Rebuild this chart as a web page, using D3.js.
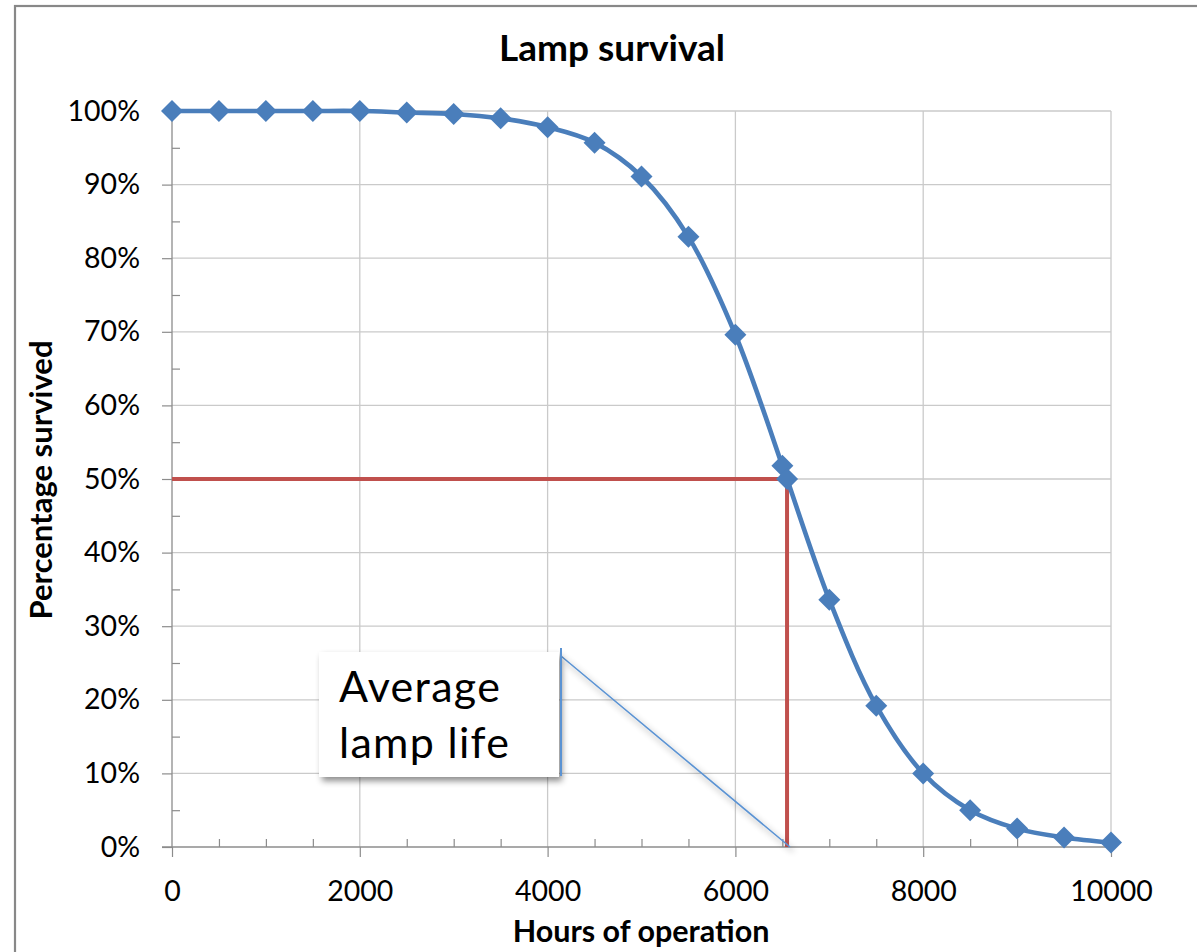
<!DOCTYPE html>
<html>
<head>
<meta charset="utf-8">
<script src="https://cdn.jsdelivr.net/npm/d3@7"></script>
<style>
  html, body { margin: 0; padding: 0; background: #fff; }
  svg { display: block; }
  text { font-family: Lato, "Open Sans", sans-serif; fill: #000; }
</style>
</head>
<body>
<svg id="chart" width="1197" height="952"></svg>
<script>
// Lamp survival data: hours of operation vs. fraction of lamps still working
const hours    = [0, 500, 1000, 1500, 2000, 2500, 3000, 3500, 4000, 4500, 5000, 5500, 6000, 6500, 6550, 7000, 7500, 8000, 8500, 9000, 9500, 10000];
const survival = [1.000, 1.000, 1.000, 1.000, 1.000, 0.998, 0.996, 0.990, 0.978, 0.957, 0.911, 0.829, 0.696, 0.518, 0.500, 0.336, 0.192, 0.100, 0.050, 0.025, 0.013, 0.006];

// Average lamp life: the hour at which 50% have survived
const lifeHours = 6550;
const lifeLevel = 0.5;

const xTicks = [0, 2000, 4000, 6000, 8000, 10000];
const xMinorTicks = d3.range(0, 10001, 500);
const yTicks = d3.range(0, 11).map(i => i / 10);
const yMinorTicks = d3.range(0, 21).map(i => i / 20);

const titleText = "Lamp survival";
const xTitle = "Hours of operation";
const yTitle = "Percentage survived";
const calloutLines = ["Average", "lamp life"];

const svg = d3.select("#chart");
const blue = "#4A7EBB";
const red = "#C0504D";
const axisGrey = "#8C8C8C";
const gridGrey = "#CACACA";

const x = d3.scaleLinear().domain([0, 10000]).range([172, 1111]);
const y = d3.scaleLinear().domain([0, 1]).range([847, 111]);

// outer frame of the chart area
svg.append("rect")
  .attr("x", 15).attr("y", 6)
  .attr("width", 1200).attr("height", 960)
  .attr("fill", "#fff")
  .attr("stroke", "#888").attr("stroke-width", 2.2);

const defs = svg.append("defs");
const shadow = defs.append("filter").attr("id", "shadow")
  .attr("x", "-20%").attr("y", "-20%").attr("width", "140%").attr("height", "140%");
shadow.append("feDropShadow")
  .attr("dx", 3).attr("dy", 4).attr("stdDeviation", 3)
  .attr("flood-color", "#000").attr("flood-opacity", 0.45);

// gridlines
svg.append("g").selectAll("line.h").data(yTicks.filter(d => d > 0)).join("line")
  .attr("x1", x(0)).attr("x2", x(10000))
  .attr("y1", d => y(d)).attr("y2", d => y(d))
  .attr("stroke", gridGrey).attr("stroke-width", 1.3);
svg.append("g").selectAll("line.v").data(xTicks.filter(d => d > 0)).join("line")
  .attr("x1", d => x(d)).attr("x2", d => x(d))
  .attr("y1", y(1)).attr("y2", y(0))
  .attr("stroke", gridGrey).attr("stroke-width", 1.3);

// y axis: major ticks outside, minor ticks inside
const yAxisMajor = d3.axisLeft(y).tickValues(yTicks).tickSize(10).tickPadding(22)
  .tickFormat(d3.format(".0%"));
const gy = svg.append("g").attr("transform", `translate(${x(0)},0)`).call(yAxisMajor);
gy.select(".domain").remove();
gy.selectAll(".tick line").attr("stroke", axisGrey).attr("stroke-width", 1.2);
gy.selectAll(".tick text").attr("font-size", 28.5).attr("font-family", "Lato").attr("fill", "#000");
const gyMinor = svg.append("g").attr("transform", `translate(${x(0)},0)`)
  .call(d3.axisRight(y).tickValues(yMinorTicks.filter((d, i) => i % 2 === 1)).tickSize(8).tickFormat(""));
gyMinor.select(".domain").remove();
gyMinor.selectAll(".tick line").attr("stroke", axisGrey).attr("stroke-width", 1.2);
svg.append("line")
  .attr("x1", x(0)).attr("x2", x(0)).attr("y1", y(1)).attr("y2", y(0))
  .attr("stroke", axisGrey).attr("stroke-width", 1.3);

// x axis: major ticks outside, minor ticks inside
const gx = svg.append("g").attr("transform", `translate(0,${y(0)})`)
  .call(d3.axisBottom(x).tickValues(xTicks).tickSize(10).tickPadding(24).tickFormat(d3.format("d")));
gx.select(".domain").remove();
gx.selectAll(".tick line").attr("stroke", axisGrey).attr("stroke-width", 1.2);
gx.selectAll(".tick text").attr("font-size", 28.5).attr("font-family", "Lato").attr("fill", "#000");
const gxMinor = svg.append("g").attr("transform", `translate(0,${y(0)})`)
  .call(d3.axisTop(x).tickValues(xMinorTicks.filter(d => d % 2000 !== 0)).tickSize(8).tickFormat(""));
gxMinor.select(".domain").remove();
gxMinor.selectAll(".tick line").attr("stroke", axisGrey).attr("stroke-width", 1.2);
svg.append("line")
  .attr("x1", x(0) - 10).attr("x2", x(10000)).attr("y1", y(0)).attr("y2", y(0))
  .attr("stroke", axisGrey).attr("stroke-width", 1.3);

// average-life guide lines
svg.append("path")
  .attr("d", `M${x(0)},${y(lifeLevel)} H${x(lifeHours)} V${y(0)}`)
  .attr("fill", "none").attr("stroke", red).attr("stroke-width", 4);

// survival curve
const pts = hours.map((h, i) => [h, survival[i]]);
svg.append("path")
  .datum(pts)
  .attr("d", d3.line().x(d => x(d[0])).y(d => y(d[1])).curve(d3.curveCatmullRom.alpha(0.5)))
  .attr("fill", "none").attr("stroke", blue).attr("stroke-width", 4.6);

svg.append("g").selectAll("path").data(pts).join("path")
  .attr("transform", d => `translate(${x(d[0])},${y(d[1])})`)
  .attr("d", "M0,-11L11,0L0,11L-11,0Z")
  .attr("fill", blue);

// titles
svg.append("text")
  .attr("x", 612).attr("y", 61).attr("text-anchor", "middle")
  .attr("font-size", 37).attr("font-weight", "bold").text(titleText);
svg.append("text")
  .attr("x", 641).attr("y", 942).attr("text-anchor", "middle")
  .attr("font-size", 30.5).attr("font-weight", "bold").text(xTitle);
svg.append("text")
  .attr("transform", `translate(52,480) rotate(-90)`).attr("text-anchor", "middle")
  .attr("font-size", 31).attr("font-weight", "bold").text(yTitle);

// callout box with leader line pointing to the average life
const callout = svg.append("g");
callout.append("line")
  .attr("x1", 561).attr("y1", 656)
  .attr("x2", x(lifeHours) + 3).attr("y2", y(0))
  .attr("stroke", "#5B93D3").attr("stroke-width", 1.6)
  .attr("filter", "url(#shadow)");
callout.append("rect")
  .attr("x", 319).attr("y", 652).attr("width", 240).attr("height", 125)
  .attr("fill", "#fff").attr("filter", "url(#shadow)");
callout.append("line")
  .attr("x1", 561).attr("x2", 561).attr("y1", 648).attr("y2", 776)
  .attr("stroke", "#5B93D3").attr("stroke-width", 2);
callout.selectAll("text").data(calloutLines).join("text")
  .attr("x", 339).attr("y", (d, i) => 702 + i * 56)
  .attr("font-size", 43).attr("letter-spacing", 1.3)
  .text(d => d);
</script>
</body>
</html>
